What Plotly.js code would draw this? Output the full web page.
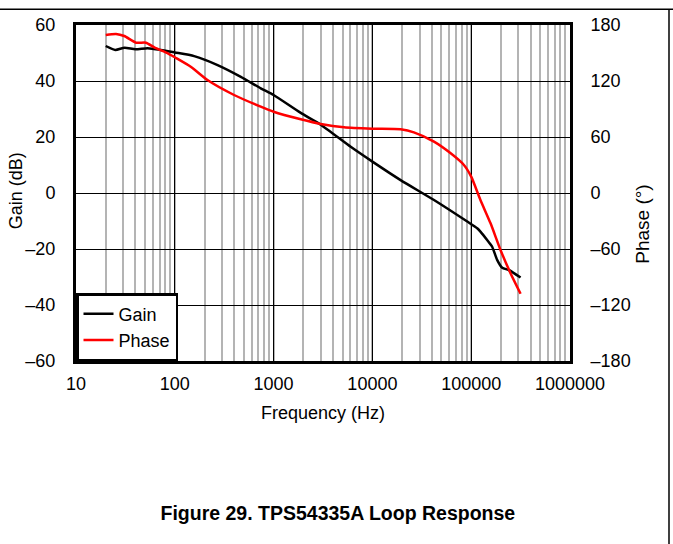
<!DOCTYPE html>
<html>
<head>
<meta charset="utf-8">
<script src="https://cdn.plot.ly/plotly-3.0.1.min.js"></script>
<style>
  html, body { margin: 0; padding: 0; background: #fff; }
  #chart { width: 673px; height: 544px; }
</style>
</head>
<body>
<div id="chart"></div>
<script>
// ---- Data ----
var freqGain = [20, 25, 31, 40, 53, 72, 100, 157, 271, 466, 741, 1000, 1884, 3000, 6030, 10000, 19300, 42000, 91200, 115000, 124000, 145000, 163000, 183000, 206000, 240000, 316000];
var gain     = [52.5, 51.1, 51.9, 51.3, 51.7, 51.1, 50.2, 48.9, 45.7, 41.5, 37.4, 35.0, 28.6, 24.4, 16.5, 11.2, 4.6, -2.5, -10.2, -12.6, -13.8, -16.8, -19.2, -23.9, -26.7, -27.5, -30.2];

var freqPhase = [20, 25.4, 30.8, 40.5, 51, 62, 85, 100, 145, 214, 398, 741, 1000, 1884, 3000, 5160, 10000, 19300, 26300, 42000, 62000, 84400, 100000, 124000, 157000, 198000, 250000, 316000];
var phase     = [169.3, 170.4, 168.2, 161, 161, 156, 149.6, 145.4, 135.3, 121, 105, 92.5, 87.1, 79, 74, 70.4, 68.9, 68.2, 65, 55, 42.5, 30, 17.5, -7.5, -32.5, -61, -86, -108];

var xTickVals  = [10, 100, 1000, 10000, 100000, 1000000];
var xTickText  = ["10", "100", "1000", "10000", "100000", "1000000"];
var gainTickVals  = [-60, -40, -20, 0, 20, 40, 60];
var gainTickText  = ["\u201360", "\u201340", "\u201320", "0", "20", "40", "60"];
var phaseTickVals = [-180, -120, -60, 0, 60, 120, 180];
var phaseTickText = ["\u2013180", "\u2013120", "\u201360", "0", "60", "120", "180"];

var FONT = "Liberation Sans, Arial, sans-serif";

var traces = [
  {
    x: freqGain, y: gain, name: "Gain", type: "scatter", mode: "lines",
    line: { color: "#000000", width: 2.5, shape: "spline", smoothing: 0.6 },
    yaxis: "y", legendgroup: "g1"
  },
  {
    x: freqPhase, y: phase, name: "Phase", type: "scatter", mode: "lines",
    line: { color: "#ff0000", width: 2.5, shape: "spline", smoothing: 0.6 },
    yaxis: "y2", legendgroup: "g2"
  }
];

var layout = {
  width: 673, height: 544,
  margin: { l: 76, r: 103, t: 25, b: 183, pad: 0 },
  paper_bgcolor: "#ffffff", plot_bgcolor: "#ffffff",
  font: { family: FONT, size: 18, color: "#000000" },
  showlegend: true,
  title: {
    text: "<b>Figure 29. TPS54335A Loop Response</b>",
    font: { family: FONT, size: 19.5, color: "#000000" },
    x: 0.502, xref: "container", xanchor: "center",
    y: 0.057, yref: "container", yanchor: "middle"
  },
  xaxis: {
    type: "log", range: [1, 6],
    tickmode: "array", tickvals: xTickVals, ticktext: xTickText,
    showgrid: true, gridcolor: "#000000", gridwidth: 1,
    minor: { dtick: "D1", showgrid: true, gridcolor: "#b4b4b4", gridwidth: 2, ticks: "" },
    showline: true, linecolor: "#000000", linewidth: 3, mirror: true,
    ticks: "", ticklabelstandoff: 4,
    tickfont: { family: FONT, size: 18 },
    title: { text: "Frequency (Hz)", font: { family: FONT, size: 18 }, standoff: 14 },
    zeroline: false
  },
  yaxis: {
    range: [-60, 60],
    tickmode: "array", tickvals: gainTickVals, ticktext: gainTickText,
    showgrid: true, gridcolor: "#000000", gridwidth: 1,
    zeroline: false,
    showline: true, linecolor: "#000000", linewidth: 3, mirror: true,
    ticks: "", ticklabelstandoff: 14,
    tickfont: { family: FONT, size: 18 }
  },
  yaxis2: {
    range: [-180, 180], overlaying: "y", side: "right",
    tickmode: "array", tickvals: phaseTickVals, ticktext: phaseTickText,
    showgrid: false, zeroline: false,
    showline: true, linecolor: "#000000", linewidth: 3,
    ticks: "", ticklabelstandoff: 14,
    tickfont: { family: FONT, size: 18 }
  },
  annotations: [
    { text: "Gain (dB)", xref: "paper", yref: "paper", x: -0.121, y: 0.506,
      xanchor: "center", yanchor: "middle", textangle: -90, showarrow: false,
      font: { family: FONT, size: 18 } },
    { text: "Phase (\u00b0)", xref: "paper", yref: "paper", x: 1.1475, y: 0.408,
      xanchor: "center", yanchor: "middle", textangle: -90, showarrow: false,
      font: { family: FONT, size: 19 } }
  ],
  legend: {
    x: 0, y: 0, xanchor: "left", yanchor: "bottom",
    bgcolor: "#ffffff", bordercolor: "#000000", borderwidth: 2.5,
    font: { family: FONT, size: 18 },
    tracegroupgap: 4, traceorder: "normal"
  },
  shapes: [
    { type: "line", xref: "paper", yref: "paper", x0: -0.16, x1: 1.21, y0: 1.047, y1: 1.047,
      line: { color: "#000000", width: 1.5 } },
    { type: "line", xref: "paper", yref: "paper", x0: 1.2004, x1: 1.2004, y0: 1.047, y1: -0.56,
      line: { color: "#000000", width: 1.5 } }
  ]
};

Plotly.newPlot("chart", traces, layout, { displayModeBar: false, staticPlot: true });
</script>
</body>
</html>
